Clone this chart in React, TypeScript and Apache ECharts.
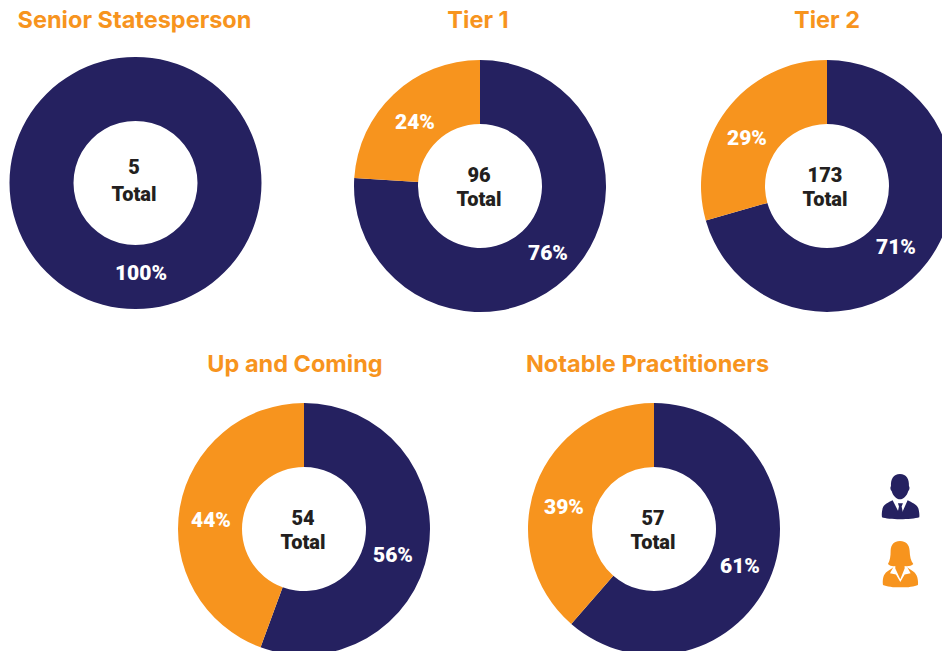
import React, { useEffect, useRef } from "react";
import * as echarts from "echarts";

const names = ["Senior Statesperson", "Tier 1", "Tier 2", "Up and Coming", "Notable Practitioners"];
const totals = [5, 96, 173, 54, 57];
const malePct = [100, 76, 70.6, 55.6, 61.4];
const femalePct = [0, 24, 29.4, 44.4, 38.6];

const NAVY = "#252160";
const ORANGE = "#F7941E";
const INK = "#231F20";

// layout only
const centers = [[135.5, 183], [480, 186], [827, 186], [304, 529], [654, 529]];
const titleXY = [[134.5, 19], [478, 19], [827, 19], [295, 363], [647.5, 363]];
const centerTextXY = [[134, 167, 194], [479, 175, 199], [825, 175, 199], [303, 518, 542], [653, 518, 542]];
const maleLabelXY = [[141, 273], [548, 253], [896, 247], [393, 555], [740, 566]];
const femaleLabelXY = [[0, 0], [415, 122], [747, 138], [211, 520], [564, 507]];

const manHead = "M120 42C140 42 148 58 147 78C150 82 149 90 145 93C141 108 130 118 120 118C110 118 99 108 95 93C91 90 90 82 93 78C92 58 100 42 120 42Z";
const manBody = "M98 121C85 128 72 132 68 145C65 155 65 165 66 172C85 180 155 180 178 172C179 165 178 155 175 145C170 132 155 128 143 121L122 168L98 121Z";
const manTie = "M114 130L129 130L125 140L130 162L121 172L112 162L117 140Z";
const womanHair = "M120 243C138 243 148 254 149 272C150 290 152 302 160 312C154 318 144 320 134 318L134 326L121 358L106 326L106 318C98 320 90 318 84 312C90 302 92 290 92 272C93 254 102 243 120 243Z";
const womanBody = "M100 322C88 332 74 336 70 352C68 360 68 368 69 375C90 385 155 385 174 375C175 368 174 360 172 352C168 336 154 332 142 322L152 340L134 344L121 366L108 344L90 340Z";
echarts.graphic.registerShape("manHead", echarts.graphic.extendPath(manHead, {}));
echarts.graphic.registerShape("manBody", echarts.graphic.extendPath(manBody, {}));
echarts.graphic.registerShape("manTie", echarts.graphic.extendPath(manTie, {}));
echarts.graphic.registerShape("womanHair", echarts.graphic.extendPath(womanHair, {}));
echarts.graphic.registerShape("womanBody", echarts.graphic.extendPath(womanBody, {}));

const LABEL_FONT = "Roboto";
const TITLE_FONT = "Inter";

export default function App() {
  const ref = useRef<HTMLDivElement>(null);
  useEffect(() => {
    document.body.style.margin = "0";
    const chart = echarts.init(ref.current!, null, { renderer: "svg" });
    const icon = (type: string, fill: string) => ({
      type, x: 860, y: 460, scaleX: 1 / 3, scaleY: 1 / 3, style: { fill },
    });
    chart.setOption({
      animation: false,
      backgroundColor: "#fff",
      title: names.map((n, i) => ({
        text: n,
        left: titleXY[i][0],
        top: titleXY[i][1] - 14,
        textAlign: "center",
        padding: 0,
        textStyle: { color: ORANGE, fontFamily: TITLE_FONT, fontWeight: 700, fontSize: 23.5, lineHeight: 28 },
      })),
      series: names.map((n, i) => ({
        type: "pie",
        name: n,
        center: centers[i],
        radius: [62, 126],
        startAngle: 90,
        clockwise: true,
        silent: true,
        labelLine: { show: false },
        label: {
          show: true,
          position: "inside",
          formatter: (p: any) => `${Math.round(p.value)}%`,
          color: "#fff",
          fontFamily: LABEL_FONT,
          fontWeight: 900,
          fontSize: 21,
        },
        labelLayout: (p: any) => {
          const xy = p.dataIndex === 0 ? maleLabelXY[i] : femaleLabelXY[i];
          return { x: xy[0], y: xy[1], align: "center", verticalAlign: "middle" };
        },
        data: [
          { name: "Men", value: malePct[i], itemStyle: { color: NAVY } },
          ...(femalePct[i] > 0 ? [{ name: "Women", value: femalePct[i], itemStyle: { color: ORANGE } }] : []),
        ],
      })),
      graphic: [
        ...totals.flatMap((t, i) => [
          { type: "text", x: centerTextXY[i][0], y: centerTextXY[i][1], style: { text: String(t), textAlign: "center", textVerticalAlign: "middle", fill: INK, font: `900 20px ${LABEL_FONT}` } },
          { type: "text", x: centerTextXY[i][0], y: centerTextXY[i][2], style: { text: "Total", textAlign: "center", textVerticalAlign: "middle", fill: INK, font: `900 20px ${LABEL_FONT}` } },
        ]),
        icon("manHead", NAVY),
        icon("manBody", NAVY),
        icon("manTie", NAVY),
        icon("womanHair", ORANGE),
        icon("womanBody", ORANGE),
      ],
    });
    return () => chart.dispose();
  }, []);
  return <div ref={ref} style={{ width: 942, height: 651 }} />;
}
